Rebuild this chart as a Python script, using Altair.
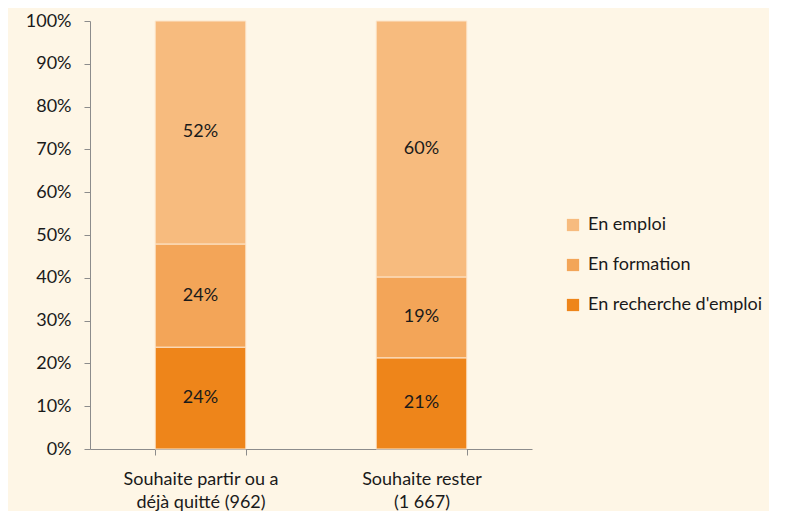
import altair as alt
import pandas as pd

categories = ["Souhaite partir ou a|déjà quitté (962)", "Souhaite rester|(1 667)"]
series = ["En recherche d'emploi", "En formation", "En emploi"]
values = {
    "En recherche d'emploi": [23.8, 21.3],
    "En formation": [24.1, 18.9],
    "En emploi": [52.1, 59.8],
}
labels = {
    "En recherche d'emploi": ["24%", "21%"],
    "En formation": ["24%", "19%"],
    "En emploi": ["52%", "60%"],
}
colors = ["#EE851A", "#F3A558", "#F7BB7E"]
legend_order = ["En emploi", "En formation", "En recherche d'emploi"]

rows = []
for si, s in enumerate(series):
    for ci, c in enumerate(categories):
        rows.append({"cat": c, "serie": s, "ord": si, "val": values[s][ci], "lab": labels[s][ci]})
df = pd.DataFrame(rows)

FONT = "Lato"
FS = 18

base = alt.Chart(df).transform_stack(
    stack="val", groupby=["cat"], as_=["y0", "y1"],
    sort=[alt.SortField("ord", order="ascending")]
).transform_calculate(mid="(datum.y0 + datum.y1) / 2")

xenc = alt.X("cat:N", sort=categories, title=None,
             scale=alt.Scale(paddingInner=0.59, paddingOuter=0.295),
             axis=alt.Axis(labelExpr="split(datum.label, '|')", labelAngle=0,
                           tickBand="extent", domainColor="#8c8c8c", tickColor="#8c8c8c",
                           tickSize=6, labelFontSize=FS, labelFont=FONT, labelColor="#1a1a1a",
                           labelPadding=15, labelLineHeight=23, labelBaseline="top"))

bars = base.mark_bar(stroke="#FDE6CC", strokeWidth=1).encode(
    x=xenc,
    y=alt.Y("y0:Q", title=None,
            scale=alt.Scale(domain=[0, 100], nice=False),
            axis=alt.Axis(values=list(range(0, 101, 10)), labelExpr="datum.value + '%'",
                          grid=False, domainColor="#8c8c8c", tickColor="#8c8c8c", tickSize=6,
                          labelFontSize=FS, labelFont=FONT, labelColor="#1a1a1a", labelPadding=13)),
    y2="y1:Q",
    color=alt.Color("serie:N", sort=legend_order,
                    scale=alt.Scale(domain=series, range=colors),
                    legend=alt.Legend(title=None, orient="none", legendX=474, legendY=195,
                                      symbolType="square", symbolSize=150, symbolStrokeWidth=0,
                                      labelFontSize=FS, labelFont=FONT, labelColor="#1a1a1a",
                                      labelLimit=0,
                                      rowPadding=22, labelOffset=6, values=legend_order)),
)

text = base.mark_text(fontSize=FS, font=FONT, color="#1a1a1a").encode(
    x=alt.X("cat:N", sort=categories),
    y=alt.Y("mid:Q"),
    text="lab:N",
)

chart = alt.layer(bars, text).properties(
    width=442, height=428,
    background="#FEF6E6",
    padding={"left": 17, "top": 4, "right": 6, "bottom": 0},
).configure_view(stroke=None)

chart.save("out.html", embed_options={"renderer": "svg", "actions": False})
